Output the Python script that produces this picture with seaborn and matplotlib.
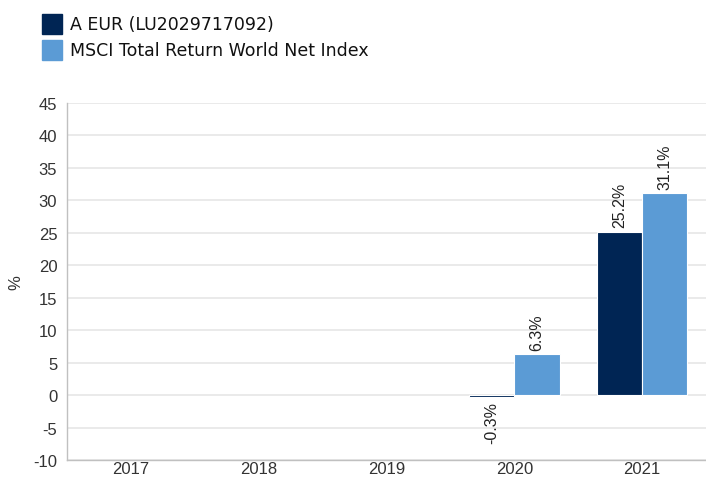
import numpy as np
import pandas as pd
import matplotlib
matplotlib.use("Agg")
import matplotlib.pyplot as plt
import seaborn as sns

years = ["2017", "2018", "2019", "2020", "2021"]
fund_name = "A EUR (LU2029717092)"
index_name = "MSCI Total Return World Net Index"
fund_returns = [np.nan, np.nan, np.nan, -0.3, 25.2]
index_returns = [np.nan, np.nan, np.nan, 6.3, 31.1]
y_ticks = list(range(-10, 50, 5))

df = pd.concat([
    pd.DataFrame({"year": years, "series": fund_name, "value": fund_returns}),
    pd.DataFrame({"year": years, "series": index_name, "value": index_returns}),
], ignore_index=True)

sns.set_style("white")
plt.rcParams["font.family"] = ["Liberation Sans", "DejaVu Sans"]
plt.rcParams["axes.unicode_minus"] = False

fig = plt.figure(figsize=(7.06, 4.81), dpi=100)
ax = fig.add_axes([67 / 706, 20 / 481, 639 / 706, 357 / 481])

palette = {fund_name: "#002554", index_name: "#5b9bd5"}
sns.barplot(data=df, x="year", y="value", hue="series", order=years,
            hue_order=[fund_name, index_name], palette=palette,
            width=0.71, edgecolor="white", linewidth=0.8, saturation=1,
            ax=ax, legend=False)

for cont in ax.containers:
    ax.bar_label(cont, fmt=lambda v: f"{v:.1f}%", rotation=90, padding=3,
                 fontsize=11.5, color="#222222")

ax.set_ylim(-10, 45)
ax.set_yticks(y_ticks)
ax.set_xlim(-0.5, 4.5)
ax.yaxis.grid(True, color="#e6e6e6", linewidth=1.2)
ax.set_axisbelow(True)
ax.set_xlabel("")
ax.set_ylabel("%", fontsize=12, color="#333333")
ax.yaxis.set_label_coords(-44 / 639, 0.5)
ax.tick_params(axis="both", labelsize=12, colors="#333333", length=0)
ax.tick_params(axis="y", pad=7)
ax.tick_params(axis="x", pad=1)
for side in ["top", "right"]:
    ax.spines[side].set_visible(False)
for side in ["left", "bottom"]:
    ax.spines[side].set_color("#c0c0c0")
    ax.spines[side].set_linewidth(1)

# legend at top left
legend_items = [(fund_name, "#002554", 25), (index_name, "#5b9bd5", 51)]
for label, color, ypix in legend_items:
    fig.patches.append(plt.Rectangle((42 / 706, 1 - (ypix + 10) / 481), 20 / 706, 20 / 481,
                                     transform=fig.transFigure, color=color))
    fig.text(70 / 706, 1 - ypix / 481, label, fontsize=12.5, va="center",
             color="#111111", family=["DejaVu Sans"])

fig.savefig("out.png", dpi=100)
